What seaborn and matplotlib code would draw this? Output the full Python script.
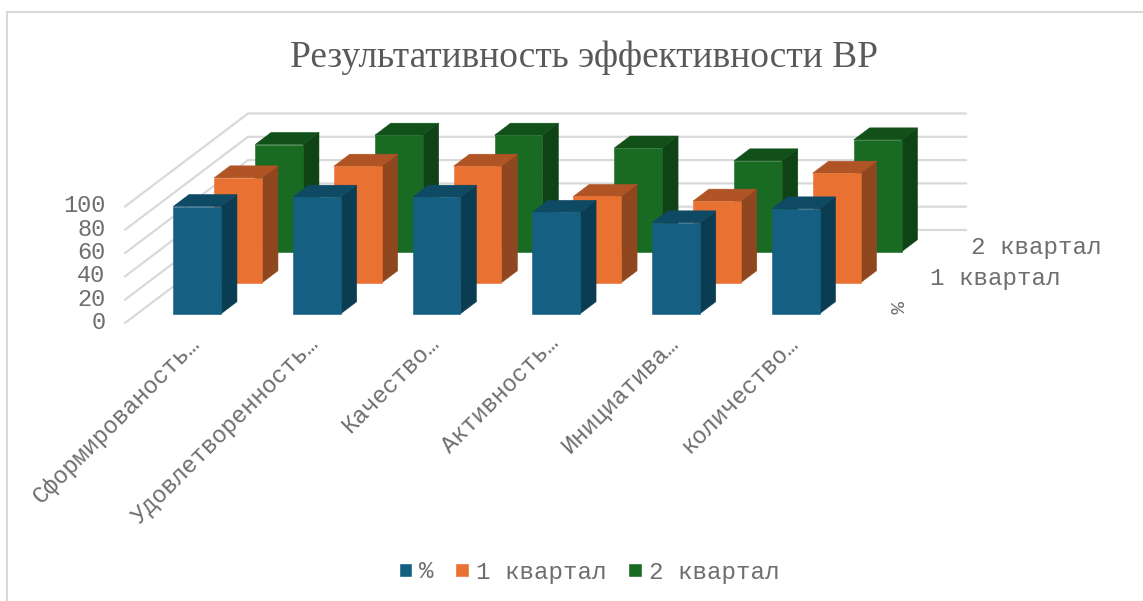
import matplotlib
matplotlib.use("Agg")
import matplotlib.pyplot as plt
from matplotlib.lines import Line2D
from matplotlib.patches import Polygon
from matplotlib.transforms import ScaledTranslation
import pandas as pd
import seaborn as sns

title = "Результативность эффективности ВР"
categories = ["Сформированость…", "Удовлетворенность…", "Качество…",
              "Активность…", "Инициатива…", "количество…"]
series = ["%", "1 квартал", "2 квартал"]
percent = [92, 100, 100, 87, 78, 90]
quarter1 = [90, 100, 100, 74, 70, 94]
quarter2 = [92, 100, 100, 89, 78, 96]
value_ticks = [0, 20, 40, 60, 80, 100]

front_colors = ["#156082", "#E97132", "#196B24"]
side_colors = ["#0B3D52", "#8F471F", "#0F4316"]
top_colors = ["#0F4A65", "#B05425", "#125019"]
GRID = "#d9d9d9"
TEXT = "#6e6e6e"
MONO = "Liberation Mono"

W, H = 1143, 601
PX_CAT, PX_VAL = 119.7, 1.165      # pixels per category / per value unit
X0_PX, Y0_PX = 125, 323            # front-left floor corner
DX, DY = 41 / PX_CAT, 31 / PX_VAL  # oblique shift per series of depth
BAR_DEPTH, BAR_GAP = 0.387, 0.3

sns.set_theme(style="white")
fig = plt.figure(figsize=(W / 100, H / 100), dpi=100, facecolor="white")
ax = fig.add_axes([0, 0, 1, 1], facecolor="none")

df = pd.DataFrame({
    "cat": categories * 3,
    "series": [s for s in series for _ in categories],
    "value": percent + quarter1 + quarter2,
})
sns.barplot(data=df, x="cat", y="value", hue="series", hue_order=series,
            order=categories, palette=front_colors, dodge=False, width=0.4,
            saturation=1, ax=ax, legend=True, errorbar=None)

ax.set_xlim(-0.5 - X0_PX / PX_CAT, -0.5 + (W - X0_PX) / PX_CAT)
ax.set_ylim(-(H - Y0_PX) / PX_VAL, Y0_PX / PX_VAL)
ax.set_xlabel("")
ax.set_ylabel("")


def shift(depth):
    return depth * DX, depth * DY


# Back wall and side wall gridlines
n = len(categories)
bx, by = shift(3)
for v in value_ticks:
    ax.plot([-0.5, -0.5 + bx, n - 0.5 + bx], [v, v + by, v + by], color=GRID,
            lw=1.6, zorder=1, solid_joinstyle="miter")

# Bars: each series is moved back along the depth direction, sides added
for s, cont in enumerate(ax.containers):
    ox, oy = shift(s + BAR_GAP)
    sx, sy = shift(BAR_DEPTH)
    z = 10 - s
    for bar in cont:
        x, w, h = bar.get_x(), bar.get_width(), bar.get_height()
        bar.set_x(x + ox)
        bar.set_y(oy)
        bar.set_zorder(z + 0.1)
        bar.set_edgecolor(front_colors[s])
        bar.set_linewidth(0.4)
        x0, x1 = x + ox, x + ox + w
        y0, y1 = oy, oy + h
        ax.add_patch(Polygon([(x1, y0), (x1 + sx, y0 + sy), (x1 + sx, y1 + sy), (x1, y1)],
                             closed=True, fc=side_colors[s], ec=side_colors[s], lw=0.4, zorder=z))
        ax.add_patch(Polygon([(x0, y1), (x1, y1), (x1 + sx, y1 + sy), (x0 + sx, y1 + sy)],
                             closed=True, fc=top_colors[s], ec=top_colors[s], lw=0.4, zorder=z))

# Axes on the front floor edge
for name in ["top", "right"]:
    ax.spines[name].set_visible(False)
ax.spines["left"].set_position(("data", -0.5))
ax.spines["bottom"].set_position(("data", 0))
ax.spines["left"].set_visible(False)
ax.spines["bottom"].set_visible(False)
ax.set_yticks(value_ticks)
ax.tick_params(axis="y", length=0, pad=14, labelsize=17, labelcolor=TEXT)
ax.tick_params(axis="x", length=0, pad=9, labelsize=17, labelcolor=TEXT)
ynudge = ScaledTranslation(0, 3 / 100, fig.dpi_scale_trans)
for lab in ax.get_yticklabels():
    lab.set_fontfamily(MONO)
    lab.set_transform(lab.get_transform() + ynudge)
ax.set_xticks(range(n))
ax.set_xticklabels(categories, rotation=45, ha="right", va="top",
                   rotation_mode="anchor", fontfamily=MONO)
nudge = ScaledTranslation(3 / 100, 4 / 100, fig.dpi_scale_trans)
for lab in ax.get_xticklabels():
    lab.set_transform(lab.get_transform() + nudge)

# Depth axis labels
for s, name in enumerate(series):
    dx, dy = shift(s + 0.5)
    ax.annotate(name, (n - 0.5 + dx, dy), xytext=(22 if s == 0 else 25, 0 if s == 0 else -2),
                textcoords="offset pixels", ha="left", va="center",
                fontsize=17.4 if s else 15, color=TEXT, fontfamily=MONO,
                rotation=0 if s else 270)

ax.set_title(title, x=583.5 / W, y=1 - 58 / H, pad=0, va="center", fontsize=26.9,
             color="#595959", fontfamily="Liberation Serif")

handles, labels = ax.get_legend_handles_labels()
ax.legend(handles, labels, loc="center", bbox_to_anchor=(589 / W, 1 - 572 / H),
          ncols=3, frameon=False, handlelength=0.55, handleheight=0.55,
          handletextpad=0.3, columnspacing=0.9, borderpad=0,
          prop={"family": MONO, "size": 17.4}, labelcolor=TEXT)

# Chart frame: only its top and left edges fall inside the picture
fig.add_artist(Line2D([7 / W, 7 / W, 1], [0, 1 - 12 / H, 1 - 12 / H],
                      transform=fig.transFigure, color=GRID, lw=1.5,
                      solid_joinstyle="miter"))

fig.savefig("out.png", dpi=100)
